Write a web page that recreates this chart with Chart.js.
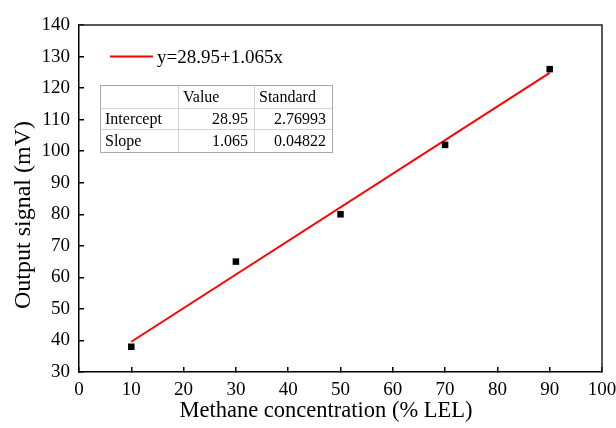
<!DOCTYPE html>
<html>
<head>
<meta charset="utf-8">
<script src="https://cdn.jsdelivr.net/npm/chart.js@4"></script>
<style>
  html, body { margin: 0; padding: 0; background: #fff; }
  #wrap { width: 616px; height: 428px; }
</style>
</head>
<body>
<div id="wrap"><canvas id="chart" width="616" height="428"></canvas></div>
<script>
// ----- DATA -----
const concentration = [10, 30, 50, 70, 90];
const signal = [38, 65, 80, 102, 126];
const fitX = [10, 90];
const fitY = [39.6, 124.8];
const fitLabel = 'y=28.95+1.065x';
const tableHeader = ['', 'Value', 'Standard'];
const tableRows = [
  ['Intercept', '28.95', '2.76993'],
  ['Slope', '1.065', '0.04822']
];
const xTitle = 'Methane concentration (% LEL)';
const yTitle = 'Output signal (mV)';

const SERIF = '"Liberation Serif", "Times New Roman", serif';

// ----- PLUGINS -----
const background = {
  id: 'background',
  beforeDraw(chart) {
    const ctx = chart.ctx;
    ctx.save();
    ctx.fillStyle = '#fff';
    ctx.fillRect(0, 0, chart.width, chart.height);
    ctx.restore();
  }
};

const extras = {
  id: 'extras',
  afterDraw(chart) {
    const ctx = chart.ctx;
    const a = chart.chartArea;
    ctx.save();

    // top & right frame lines
    ctx.strokeStyle = '#222';
    ctx.lineWidth = 1.5;
    ctx.beginPath();
    ctx.moveTo(a.left, a.top);
    ctx.lineTo(a.right, a.top);
    ctx.lineTo(a.right, a.bottom);
    ctx.stroke();

    // axis titles
    ctx.fillStyle = '#000';
    ctx.font = '22.5px ' + SERIF;
    ctx.textAlign = 'center';
    ctx.textBaseline = 'middle';
    ctx.fillText(xTitle, 326, 411);
    ctx.save();
    ctx.translate(24, 215);
    ctx.rotate(-Math.PI / 2);
    ctx.font = '24px ' + SERIF;
    ctx.fillText(yTitle, 0, 0);
    ctx.restore();

    // legend
    ctx.strokeStyle = '#ff0000';
    ctx.lineWidth = 2;
    ctx.beginPath();
    ctx.moveTo(110, 56.5);
    ctx.lineTo(153, 56.5);
    ctx.stroke();
    ctx.font = '19px ' + SERIF;
    ctx.textAlign = 'left';
    ctx.fillText(fitLabel, 157, 58);

    // parameter table
    const colX = [100, 178, 254, 332], rowY = [85, 108, 129, 152];
    ctx.strokeStyle = '#d4d4d4';
    ctx.lineWidth = 1;
    ctx.beginPath();
    for (let i = 1; i < colX.length - 1; i++) {
      ctx.moveTo(colX[i] + 0.5, rowY[0]);
      ctx.lineTo(colX[i] + 0.5, rowY[rowY.length - 1]);
    }
    for (let j = 1; j < rowY.length - 1; j++) {
      ctx.moveTo(colX[0], rowY[j] + 0.5);
      ctx.lineTo(colX[colX.length - 1], rowY[j] + 0.5);
    }
    ctx.stroke();
    ctx.strokeStyle = '#a8a8a8';
    ctx.strokeRect(colX[0] + 0.5, rowY[0] + 0.5, colX[3] - colX[0], rowY[3] - rowY[0]);

    ctx.fillStyle = '#000';
    ctx.font = '16px ' + SERIF;
    const rows = [tableHeader].concat(tableRows);
    rows.forEach((r, j) => {
      const cy = (rowY[j] + rowY[j + 1]) / 2 + 1;
      r.forEach((txt, i) => {
        if (!txt) return;
        if (j === 0 || i === 0) {
          ctx.textAlign = 'left';
          ctx.fillText(txt, colX[i] + 5, cy);
        } else {
          ctx.textAlign = 'right';
          ctx.fillText(txt, colX[i + 1] - 6, cy);
        }
      });
    });

    ctx.restore();
  }
};

// ----- CHART -----
const tickFont = { family: SERIF, size: 19 };

new Chart(document.getElementById('chart'), {
  type: 'scatter',
  data: {
    datasets: [
      {
        label: 'Data',
        data: concentration.map((x, i) => ({ x: x, y: signal[i] })),
        pointStyle: 'rect',
        pointRadius: 4.6,
        pointHoverRadius: 4.6,
        backgroundColor: '#000',
        borderColor: '#000',
        borderWidth: 0,
        showLine: false
      },
      {
        label: fitLabel,
        data: fitX.map((x, i) => ({ x: x, y: fitY[i] })),
        showLine: true,
        borderColor: '#ff0000',
        borderWidth: 2,
        pointRadius: 0,
        pointHoverRadius: 0,
        fill: false
      }
    ]
  },
  options: {
    responsive: false,
    animation: false,
    events: [],
    layout: { padding: { top: 25, right: 14, left: 0, bottom: 0 } },
    plugins: {
      legend: { display: false },
      tooltip: { enabled: false }
    },
    scales: {
      x: {
        type: 'linear',
        min: 0,
        max: 100,
        ticks: { stepSize: 10, color: '#000', font: tickFont, padding: 12, maxRotation: 0 },
        grid: { drawOnChartArea: false, drawTicks: true, tickLength: -5, color: '#000', lineWidth: 1.5 },
        border: { display: true, color: '#000', width: 1.5 },
        afterFit(scale) {
          scale.height = 56;
          scale.paddingLeft = 0;
          scale.paddingRight = 0;
        }
      },
      y: {
        type: 'linear',
        min: 30,
        max: 140,
        ticks: { stepSize: 10, color: '#000', font: tickFont, padding: 14 },
        grid: { drawOnChartArea: false, drawTicks: true, tickLength: -5, color: '#000', lineWidth: 1.5 },
        border: { display: true, color: '#000', width: 1.5 },
        afterFit(scale) {
          scale.width = 79;
          scale.paddingTop = 0;
          scale.paddingBottom = 0;
        }
      }
    }
  },
  plugins: [background, extras]
});
</script>
</body>
</html>
